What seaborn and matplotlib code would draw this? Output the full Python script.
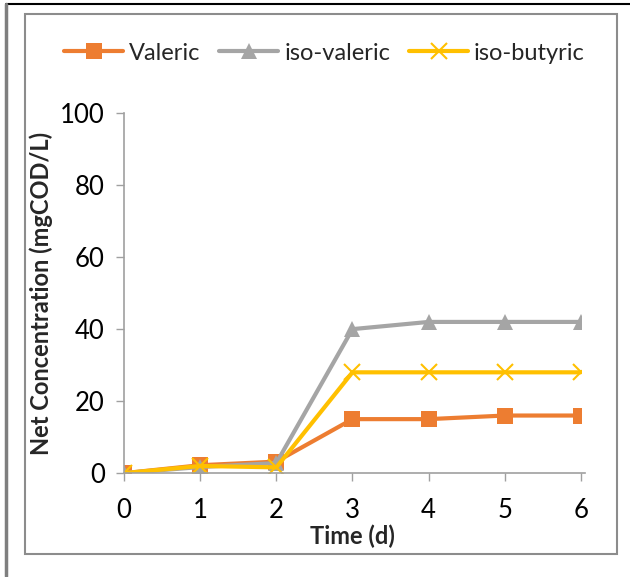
import matplotlib
matplotlib.use("Agg")
import matplotlib.pyplot as plt
import seaborn as sns
import pandas as pd
from matplotlib.patches import Rectangle
from matplotlib.lines import Line2D

time_d = [0, 1, 2, 3, 4, 5, 6]
valeric = [0, 2.2, 3.2, 15, 15, 16, 16]
iso_valeric = [0, 1.7, 2.8, 40, 42, 42, 42]
iso_butyric = [0, 2.0, 1.6, 28, 28, 28, 28]
series_names = ["Valeric", "iso-valeric", "iso-butyric"]
colors = ["#ED7D31", "#A5A5A5", "#FFC000"]
markers = ["s", "^", "x"]

df = pd.concat([
    pd.DataFrame({"Time": time_d, "Value": v, "Series": n})
    for v, n in zip([valeric, iso_valeric, iso_butyric], series_names)
])

sns.set_style("white")
plt.rcParams["font.family"] = ["Lato", "DejaVu Sans"]

fig = plt.figure(figsize=(6.3, 5.77), dpi=100)
ax = fig.add_axes([0.197, 0.180, 0.725, 0.624])

for name, c, m in zip(series_names, colors, markers):
    sub = df[df["Series"] == name]
    sns.lineplot(data=sub, x="Time", y="Value", ax=ax, color=c, marker=m,
                 markersize=11, linewidth=3,
                 markeredgewidth=1.5 if m == "x" else 0,
                 markeredgecolor=c, label=name, legend=False)

ax.set_xlim(0, 6)
ax.set_ylim(0, 100)
ax.set_xticks(time_d)
ax.set_yticks([0, 20, 40, 60, 80, 100])
ax.tick_params(axis="both", labelsize=18.5, colors="#000000", length=6,
               width=1, direction="out", bottom=True, left=True, pad=8)
ax.tick_params(axis="x", pad=12)
ax.tick_params(axis="both", color="#A0A0A0")
for s in ["top", "right"]:
    ax.spines[s].set_visible(False)
for s in ["left", "bottom"]:
    ax.spines[s].set_color("#A0A0A0")
    ax.spines[s].set_linewidth(1.2)
ax.spines["bottom"].set_bounds(0, 6.05)

ax.set_xlabel("Time (d)", fontsize=17, fontweight="bold", labelpad=1)
ax.set_ylabel("Net Concentration (mgCOD/L)", fontsize=17, fontweight="bold", labelpad=5)

handles = [Line2D([0], [0], color=c, marker=m, linewidth=3, markersize=11,
                  markeredgewidth=1.5 if m == "x" else 0, markeredgecolor=c)
           for c, m in zip(colors, markers)]
fig.legend(handles, series_names, loc="center", bbox_to_anchor=(0.515, 0.908),
           ncol=3, frameon=False, fontsize=17, handlelength=2.5,
           columnspacing=0.8, handletextpad=0.25)

# outer frames
fig.add_artist(Rectangle((25 / 630, 1 - 554 / 577), (617 - 25) / 630, (554 - 14) / 577,
                         transform=fig.transFigure, fill=False, edgecolor="#8C8C8C", linewidth=1.5))
fig.add_artist(Line2D([6 / 630, 630 / 630], [1 - 4 / 577, 1 - 4 / 577],
                      transform=fig.transFigure, color="#000000", linewidth=1.5))
fig.add_artist(Line2D([6 / 630, 6 / 630], [1 - 4 / 577, 1 - 576 / 577],
                      transform=fig.transFigure, color="#7F7F7F", linewidth=2.5))

fig.savefig("out.png", dpi=100)
